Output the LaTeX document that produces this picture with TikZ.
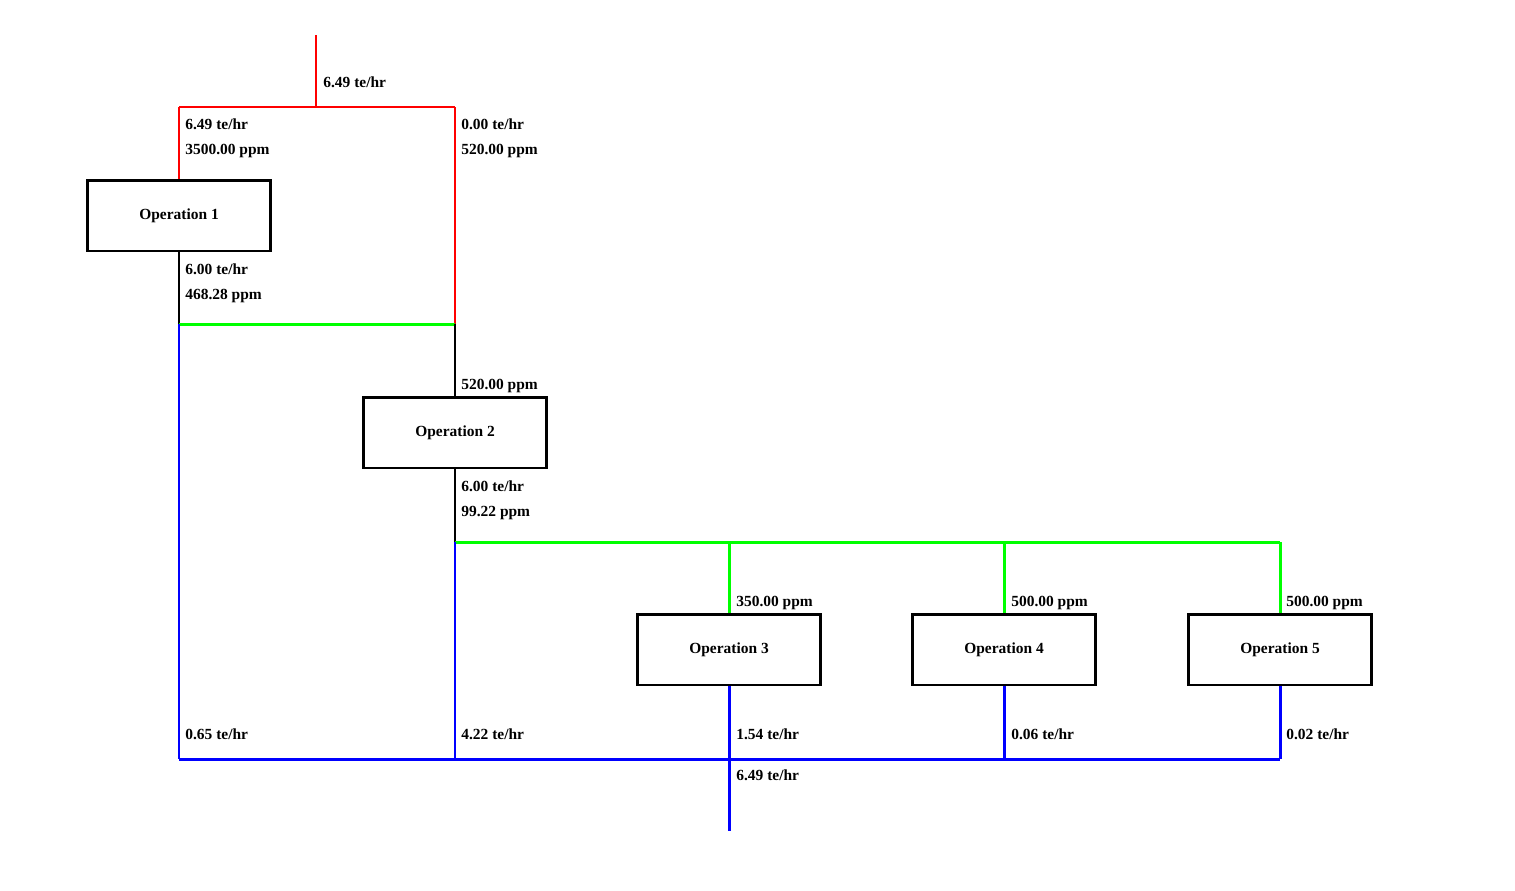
\documentclass[tikz,border=0pt]{standalone}
\usepackage{fontspec}
\setmainfont{Liberation Serif}
\usepackage{tikz}
\usetikzlibrary{positioning,calc}
\definecolor{PipeRed}{RGB}{255,0,0}
\definecolor{PipeGreen}{RGB}{0,255,0}
\definecolor{PipeBlue}{RGB}{0,0,255}
\tikzset{
  op/.style={rectangle,draw=black,fill=white,line width=1.7pt,minimum width=3.66cm,
    minimum height=1.42cm,inner sep=0pt,font=\fontsize{8.8}{10}\selectfont\bfseries},
  fresh/.style={draw=PipeRed,line width=1.7pt},
  reuse/.style={draw=PipeGreen,line width=1.7pt},
  waste/.style={draw=PipeBlue,line width=1.7pt},
  inner/.style={draw=black,line width=1.7pt},
}
\tikzset{flow/.style={anchor=west,inner sep=0pt,font=\fontsize{8.8}{10}\selectfont\bfseries}}

\begin{document}
\begin{tikzpicture}[x=0.02cm,y=-0.02cm]
\useasboundingbox (0,0) rectangle (1515,890);
% junctions
\coordinate (feed) at (316,35);
\coordinate (split) at (316,107);
\coordinate (sL) at (179,107);
\coordinate (sR) at (455,107);
\coordinate (m1) at (179,324);
\coordinate (m2) at (455,324);
\coordinate (d2) at (455,542);
\coordinate (d3) at (729,542);
\coordinate (d4) at (1004,542);
\coordinate (d5) at (1280,542);
\coordinate (w1) at (179,759);
\coordinate (w2) at (455,759);
\coordinate (w3) at (729,759);
\coordinate (w4) at (1004,759);
\coordinate (w5) at (1280,759);
\coordinate (outlet) at (729,831);
% operations
\node[op] (op1) at (179,215.5) {Operation 1};
\node[op] (op2) at (455,432.5) {Operation 2};
\node[op] (op3) at (729,649.5) {Operation 3};
\node[op] (op4) at (1004,649.5) {Operation 4};
\node[op] (op5) at (1280,649.5) {Operation 5};
% fresh water
\draw[fresh] (feed)--(split);
\draw[fresh] (sL)--(sR);
\draw[fresh] (sL)--(op1.north);
\draw[fresh] (sR)--(m2);
% reuse
\draw[inner] (op1.south)--(m1);
\draw[reuse] (m1)--(m2);
\draw[inner] (m2)--(op2.north);
\draw[inner] (op2.south)--(d2);
\draw[reuse] (d2)--(d5);
\draw[reuse] (d3)--(op3.north);
\draw[reuse] (d4)--(op4.north);
\draw[reuse] (d5)--(op5.north);
% waste water
\draw[waste] (m1)--(w1);
\draw[waste] (d2)--(w2);
\draw[waste] (op3.south)--(w3);
\draw[waste] (op4.south)--(w4);
\draw[waste] (op5.south)--(w5);
\draw[waste] (w1)--(w5);
\draw[waste] (w3)--(outlet);
% labels
\node[flow] (f0) at (323,82) {6.49 te/hr};
\node[flow] (f1) at (185,124) {6.49 te/hr};
\node[flow] (c1) at (185,151) {3500.00 ppm};
\node[flow] (f2) at (461,124) {0.00 te/hr};
\node[flow] (c2) at (461,151) {520.00 ppm};
\node[flow] (f3) at (185,269) {6.00 te/hr};
\node[flow] (c3) at (185,296) {468.28 ppm};
\node[flow] (c4) at (461,386) {520.00 ppm};
\node[flow] (f5) at (461,486) {6.00 te/hr};
\node[flow] (c5) at (461,513) {99.22 ppm};
\node[flow] (c6) at (736,603) {350.00 ppm};
\node[flow] (c7) at (1011,603) {500.00 ppm};
\node[flow] (c8) at (1286,603) {500.00 ppm};
\node[flow] (f9) at (185,734) {0.65 te/hr};
\node[flow] (f10) at (461,734) {4.22 te/hr};
\node[flow] (f11) at (736,734) {1.54 te/hr};
\node[flow] (f12) at (1011,734) {0.06 te/hr};
\node[flow] (f13) at (1286,734) {0.02 te/hr};
\node[flow] (f14) at (736,775) {6.49 te/hr};
\end{tikzpicture}
\end{document}
